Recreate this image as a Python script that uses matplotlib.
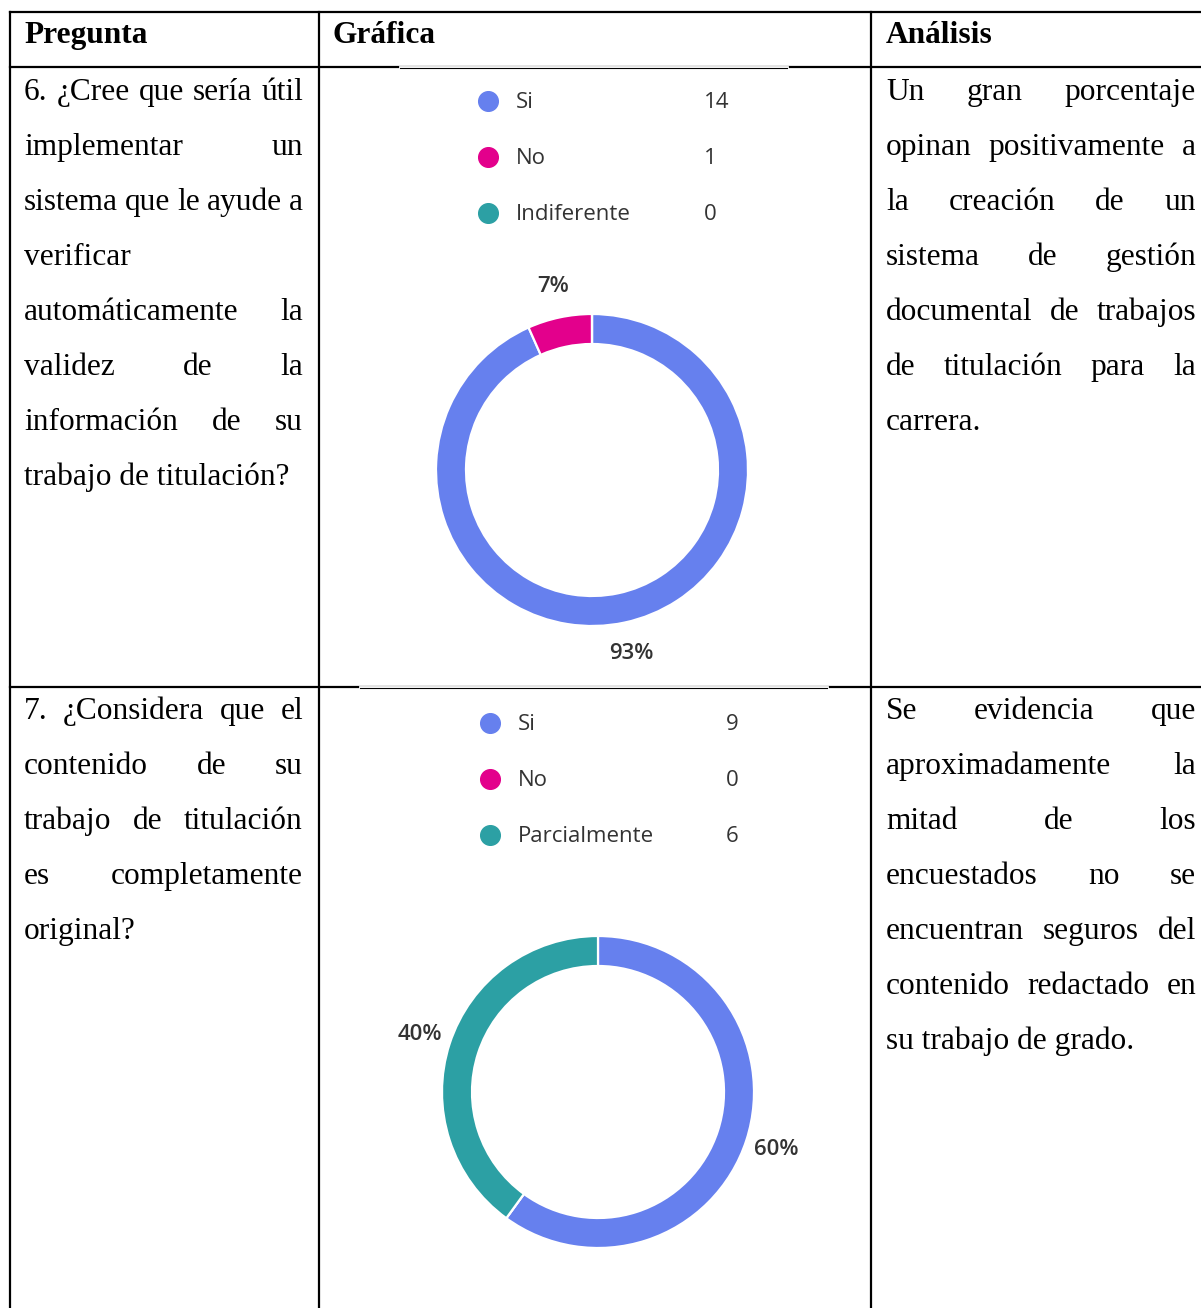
import matplotlib
matplotlib.use("Agg")
import matplotlib.pyplot as plt

# figure size in pixels (dpi 100)
W, H = 1201, 1308

headers = ["Pregunta", "Gráfica", "Análisis"]

# table text, one entry per printed line
q6_text = ["6. ¿Cree que sería útil", "implementar un", "sistema que le ayude a",
           "verificar", "automáticamente la", "validez de la",
           "información de su", "trabajo de titulación?"]
q6_analysis = ["Un gran porcentaje", "opinan positivamente a", "la creación de un",
               "sistema de gestión", "documental de trabajos",
               "de titulación para la", "carrera."]
q7_text = ["7. ¿Considera que el", "contenido de su", "trabajo de titulación",
           "es completamente", "original?"]
q7_analysis = ["Se evidencia que", "aproximadamente la", "mitad de los",
               "encuestados no se", "encuentran seguros del",
               "contenido redactado en", "su trabajo de grado."]

# survey answers
q6_labels = ["Si", "No", "Indiferente"]
q6_counts = [14, 1, 0]
q7_labels = ["Si", "No", "Parcialmente"]
q7_counts = [9, 0, 6]
colors = ["#6680ee", "#e3008c", "#2ca0a4"]

fig = plt.figure(figsize=(W / 100, H / 100), dpi=100)
ax = fig.add_axes([0, 0, 1, 1])
renderer = fig.canvas.get_renderer()


def Y(y):
    # pixel row (from top) -> data y
    return H - y


def width_of(s, **kw):
    t = ax.text(0, 0, s, **kw)
    w = t.get_window_extent(renderer).width
    t.remove()
    return w


serif = dict(family="Liberation Serif", color="black")
fs = 20 * 265 / width_of("trabajo de titulación?", fontsize=20, **serif)
serif["fontsize"] = fs


def paragraph(lines, x0, x1, y0, step=55):
    for i, line in enumerate(lines):
        y = Y(y0 + i * step)
        words = line.split()
        last = i == len(lines) - 1
        if last or len(words) == 1:
            ax.text(x0, y, line, va="baseline", ha="left", **serif)
            continue
        ws = [width_of(w, **serif) for w in words]
        gap = (x1 - x0 - sum(ws)) / (len(words) - 1)
        x = x0
        for w, wd in zip(words, ws):
            ax.text(x, y, w, va="baseline", ha="left", **serif)
            x += wd + gap


# grid lines
lw = 1.6
ax.plot([10, W], [Y(12), Y(12)], color="black", lw=lw)
ax.plot([10, W], [Y(67), Y(67)], color="black", lw=lw)
ax.plot([10, W], [Y(687), Y(687)], color="black", lw=lw)
for x in [10, 319, 871]:
    ax.plot([x, x], [Y(12), 0], color="black", lw=lw)
# the pasted images cover part of the row borders
ax.plot([400, 787], [Y(67), Y(67)], color="white", lw=lw + 0.4)
ax.plot([400, 787], [Y(67.5), Y(67.5)], color="black", lw=0.8)
ax.plot([360, 827], [Y(687), Y(687)], color="white", lw=lw + 0.4)
ax.plot([360, 827], [Y(687.5), Y(687.5)], color="black", lw=0.8)

# header
for x, h in zip([24, 333, 886], headers):
    ax.text(x, Y(43), h, va="baseline", ha="left", fontweight="bold", **serif)

paragraph(q6_text, 24, 303, 100)
paragraph(q6_analysis, 886, 1196, 100)
paragraph(q7_text, 24, 303, 719)
paragraph(q7_analysis, 886, 1196, 719)

sans = dict(family="Open Sans", color="#333333")


def donut(counts, labels, center, leg_x, leg_y, val_x):
    ax.pie(counts, colors=colors, startangle=90, counterclock=False,
           center=(center[0], Y(center[1])), radius=156,
           wedgeprops=dict(width=30, edgecolor="white", linewidth=1.6),
           autopct=lambda p: "%.0f%%" % p if p > 0 else "",
           pctdistance=1.2,
           textprops=dict(fontsize=16, fontweight="semibold", **sans))
    for i, (lab, c) in enumerate(zip(labels, counts)):
        y = Y(leg_y + i * 56)
        ax.scatter([leg_x], [y], s=200, color=colors[i], zorder=3)
        ax.text(leg_x + 28, y - 2, lab, va="center", ha="left", fontsize=16, **sans)
        ax.text(val_x, y - 2, str(c), va="center", ha="left", fontsize=16, **sans)


donut(q6_counts, q6_labels, (592, 470), 488, 101, 704)
donut(q7_counts, q7_labels, (598, 1092), 490, 723, 726)

ax.set_xlim(0, W)
ax.set_ylim(0, H)
ax.set_aspect("auto")
ax.axis("off")
fig.savefig("out.png", dpi=100)
